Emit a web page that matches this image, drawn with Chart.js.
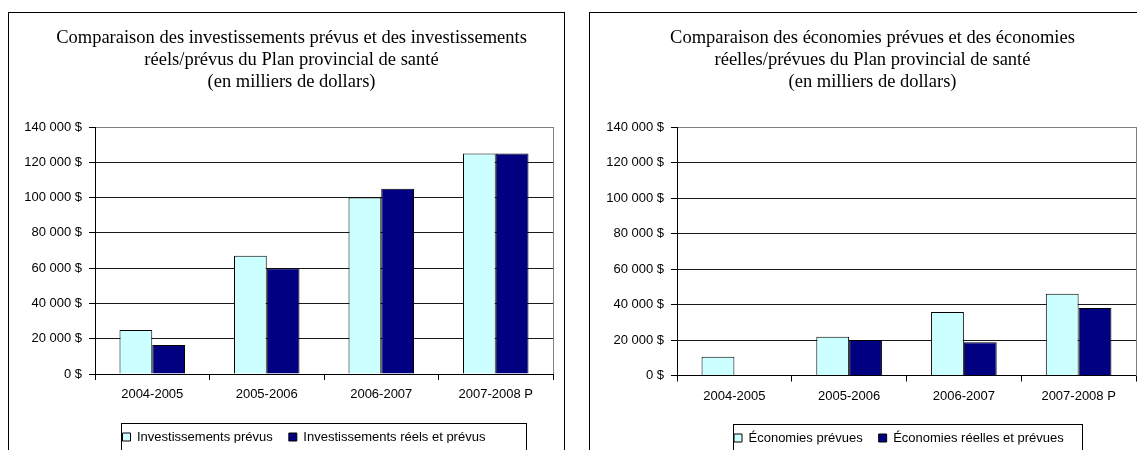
<!DOCTYPE html>
<html><head><meta charset="utf-8">
<script src="https://cdn.jsdelivr.net/npm/chart.js@4.4.1/dist/chart.umd.min.js"></script>
<style>
html,body{margin:0;padding:0;background:#fff;width:1137px;height:450px;overflow:hidden;}
.box{position:absolute;border:1px solid #000;width:555px;height:458px;background:#fff;}
canvas{display:block;}
</style></head><body>
<div class="box" style="left:8px;top:12px"><canvas id="c1" width="555" height="458"></canvas></div>
<div class="box" style="left:589px;top:12px"><canvas id="c2" width="555" height="458"></canvas></div>
<script>
const categories = ['2004-2005', '2005-2006', '2006-2007', '2007-2008 P'];
const invPrevus = [25000, 67000, 100000, 125000];
const invReels = [16500, 60000, 105000, 125000];
const ecoPrevues = [10500, 21800, 35800, 46000];
const ecoReelles = [null, 20000, 18700, 38000];
const yTicks = [0, 20000, 40000, 60000, 80000, 100000, 120000, 140000];
const title1 = ['Comparaison des investissements prévus et des investissements', 'réels/prévus du Plan provincial de santé', '(en milliers de dollars)'];
const title2 = ['Comparaison des économies prévues et des économies', 'réelles/prévues du Plan provincial de santé', '(en milliers de dollars)'];
const labels1 = ['Investissements prévus', 'Investissements réels et prévus'];
const labels2 = ['Économies prévues', 'Économies réelles et prévues'];

const LIGHT = '#CCFFFF', DARK = '#000080';

function fmt(v) {
  return String(v).replace(/\B(?=(\d{3})+(?!\d))/g, ' ') + ' $';
}

const layoutFix = {
  id: 'layoutFix',
  beforeDraw(chart, args, o) {
    const t = chart.titleBlock;
    if (t) { t.left = o.titleShift; t.right = chart.width + o.titleShift; }
    const lg = chart.legend;
    const ca = chart.chartArea;
    const cx = (ca.left + ca.right) / 2;
    const pad = lg.options.labels.padding;
    lg.left = cx + o.legendBoxLeft + 1.5 - pad;
    lg.right = lg.left + 2000;
    lg.top = o.legendTextY - 6.5 - pad;
  },
  afterDraw(chart, args, o) {
    const ctx = chart.ctx, ca = chart.chartArea;
    const cx = (ca.left + ca.right) / 2;
    ctx.save();
    ctx.lineWidth = 1;
    ctx.strokeStyle = '#808080';
    const rx = Math.round(ca.right) + 0.5;
    ctx.beginPath(); ctx.moveTo(rx, Math.round(ca.top)); ctx.lineTo(rx, Math.round(ca.bottom)); ctx.stroke();
    ctx.strokeStyle = '#000';
    const bl = Math.round(cx + o.legendBoxLeft) + 0.5;
    const br = Math.round(cx + o.legendBoxRight) + 0.5;
    ctx.strokeRect(bl, Math.round(o.legendBoxTop) + 0.5, br - bl, 40);
    ctx.restore();
  }
};

function makeChart(id, title, lbls, d1, d2, p) {
  return new Chart(document.getElementById(id), {
    type: 'bar',
    data: {
      labels: categories,
      datasets: [
        { label: lbls[0], data: d1, backgroundColor: LIGHT, borderColor: '#000', borderWidth: 1,
          categoryPercentage: 0.572, barPercentage: 1 },
        { label: lbls[1], data: d2, backgroundColor: DARK, borderColor: '#000', borderWidth: 1,
          categoryPercentage: 0.572, barPercentage: 1 }
      ]
    },
    options: {
      responsive: false,
      animation: false,
      layout: { padding: { left: 0, right: p.padRight, top: 0, bottom: p.padBottom } },
      plugins: {
        title: {
          display: true, text: title, color: '#000',
          font: { family: 'Liberation Serif', size: 18.5, weight: 'normal', lineHeight: 1.17 },
          padding: { top: 14.7, bottom: 34.4 }
        },
        legend: {
          display: true, position: 'bottom', align: 'start',
          labels: {
            color: '#000', boxWidth: 8, boxHeight: 8, padding: 16,
            font: { family: 'Liberation Sans', size: 13 }
          }
        },
        tooltip: { enabled: false },
        layoutFix: p.fix
      },
      scales: {
        x: {
          offset: true,
          grid: { display: true, offset: true, drawOnChartArea: false, drawTicks: true, tickLength: 6, color: '#000', tickColor: '#000' },
          border: { display: true, color: '#000', width: 1 },
          ticks: { color: '#000', padding: 7, maxRotation: 0, autoSkip: false,
                   font: { family: 'Liberation Sans', size: 13 } },
          afterFit(s) { s.height = 30; }
        },
        y: {
          min: 0, max: 140000,
          afterBuildTicks(s) { s.ticks = yTicks.map(v => ({ value: v })); },
          grid: { color: (c) => (c.tick && c.tick.value === 140000) ? '#808080' : '#1a1a1a',
                  tickColor: '#000', tickLength: 6, drawTicks: true },
          border: { display: true, color: '#000', width: 1 },
          ticks: { color: '#000', padding: 7, callback: (v) => fmt(v),
                   font: { family: 'Liberation Sans', size: 13 } },
          afterFit(s) { s.width = p.yWidth; }
        }
      }
    },
    plugins: [layoutFix]
  });
}

makeChart('c1', title1, labels1, invPrevus, invReels, {
  padRight: 11, padBottom: 28, yWidth: 86,
  fix: { titleShift: 5, legendBoxLeft: -203, legendBoxRight: 202, legendBoxTop: 410.3, legendTextY: 424 }
});
makeChart('c2', title2, labels2, ecoPrevues, ecoReelles, {
  padRight: 9, padBottom: 26.5, yWidth: 87,
  fix: { titleShift: 5, legendBoxLeft: -174, legendBoxRight: 175, legendBoxTop: 411.3, legendTextY: 425 }
});
</script>
</body></html>
